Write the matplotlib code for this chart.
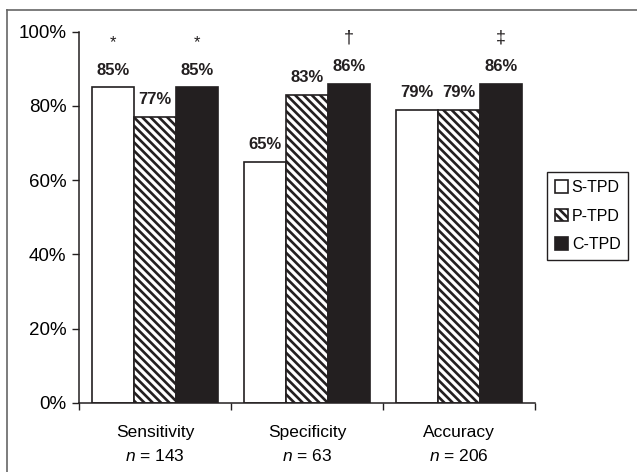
import numpy as np
import matplotlib
matplotlib.use('Agg')
import matplotlib.pyplot as plt
from matplotlib import rcParams
from matplotlib.lines import Line2D

params = {'font.family': 'Liberation Sans', 'font.size': 12,
          'mathtext.fontset': 'custom', 'mathtext.it': 'Liberation Sans:italic',
          'mathtext.rm': 'Liberation Sans', 'hatch.linewidth': 1.9}
rcParams.update(params)

# data
cats = ['Sensitivity', 'Specificity', 'Accuracy']
ns = [143, 63, 206]
series = ['S-TPD', 'P-TPD', 'C-TPD']
s_tpd = [85, 65, 79]
p_tpd = [77, 83, 79]
c_tpd = [85, 86, 86]
# significance marks above bars (series index, category index, symbol)
marks = [(0, 0, '*'), (2, 0, '*'), (2, 1, '\u2020'), (2, 2, '\u2021')]

vals = [s_tpd, p_tpd, c_tpd]
colors = ['white', 'white', '#231f20']
hatches = [None, '\\\\\\\\', None]

fig = plt.figure(figsize=(6.37, 4.72), dpi=100)
ax = fig.add_axes([79/637, 1 - 402.7/472, 456/637, 371/472])

x = np.arange(len(cats))
w = 0.276
for i in range(3):
    ax.bar(x + (i - 1) * w, vals[i], width=w, color=colors[i], hatch=hatches[i],
           edgecolor='#231f20', linewidth=1.2, label=series[i])
    for j in range(3):
        ax.text(x[j] + (i - 1) * w, vals[i][j] + 2.6, '%d%%' % vals[i][j],
                ha='center', va='bottom', fontsize=12, fontweight='bold', color='#231f20')

for i, j, s in marks:
    fs = 12 if s == '*' else 13
    ax.text(x[j] + (i - 1) * w, vals[i][j] + 10, s, ha='center', va='bottom',
            fontsize=fs, color='#231f20')

ax.set_xlim(-0.5, 2.5)
ax.set_ylim(0, 100)
ax.set_yticks(np.arange(0, 101, 20))
ax.set_yticklabels(['%d%%' % v for v in range(0, 101, 20)], fontsize=13.5)
ax.set_xticks([-0.5, 0.5, 1.5, 2.5])
ax.set_xticklabels([])
ax.set_xticks(x, minor=True)
ax.set_xticklabels([c + '\n$\\it{n}$ = %d' % n for c, n in zip(cats, ns)], minor=True,
                   linespacing=1.6, fontsize=12.5)
ax.tick_params(axis='x', which='minor', length=0, pad=16)
ax.tick_params(axis='both', which='major', length=5, width=1, direction='out', color='#231f20')
ax.tick_params(axis='y', pad=4)
for s in ['top', 'right']:
    ax.spines[s].set_visible(False)
for s in ['left', 'bottom']:
    ax.spines[s].set_linewidth(1.1)
    ax.spines[s].set_color('#231f20')

fig.legend(loc='upper left', bbox_to_anchor=(547/637, 1 - 172/472), fontsize=11.5,
           frameon=True, fancybox=False, edgecolor='#231f20', framealpha=1,
           handlelength=0.8, handleheight=0.8, handletextpad=0.25,
           borderpad=0.5, labelspacing=0.85, borderaxespad=0)

# outer frame
fig.add_artist(Line2D([7/637, 1], [1 - 10/472, 1 - 10/472], color='#666666', lw=1.2))
fig.add_artist(Line2D([7/637, 7/637], [0, 1 - 10/472], color='#666666', lw=1.2))

plt.savefig('out.png', dpi=100)
